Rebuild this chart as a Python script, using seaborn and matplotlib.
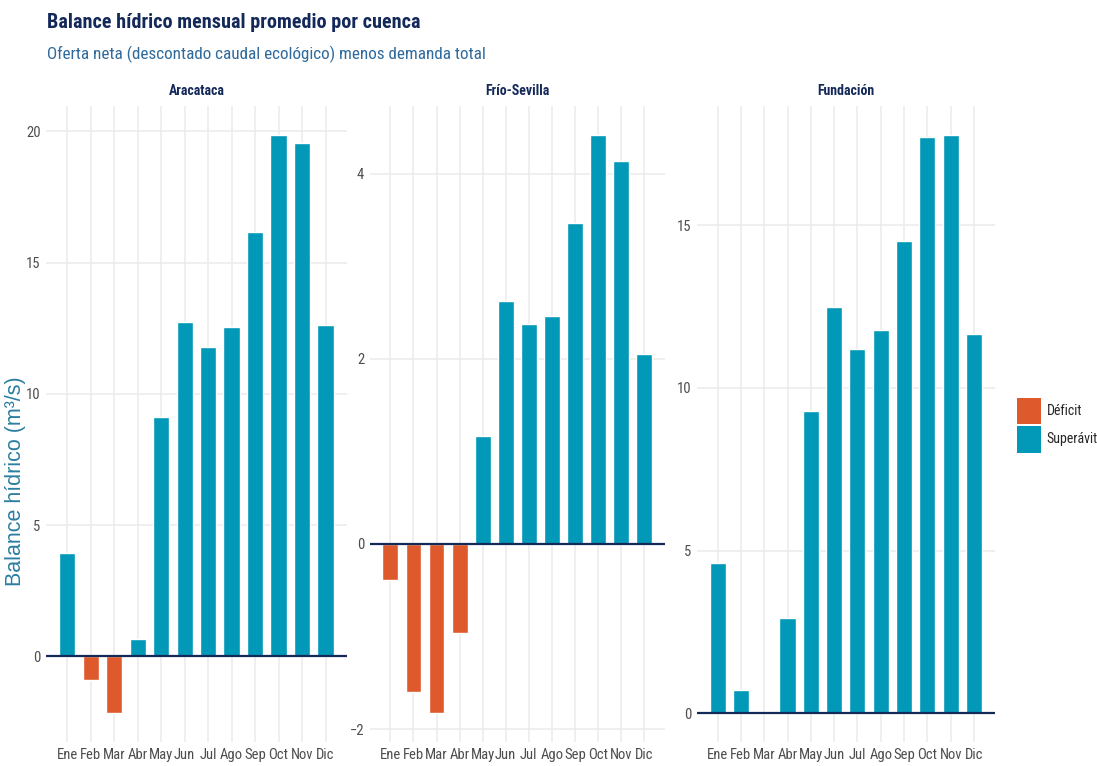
import numpy as np
import pandas as pd
import matplotlib
matplotlib.use('Agg')
import matplotlib.pyplot as plt
import seaborn as sns
from matplotlib import font_manager
from matplotlib.ticker import MultipleLocator
from matplotlib.patches import Patch

# Datos
meses = ['Ene', 'Feb', 'Mar', 'Abr', 'May', 'Jun', 'Jul', 'Ago', 'Sep', 'Oct', 'Nov', 'Dic']
cuencas = ['Aracataca', 'Frío-Sevilla', 'Fundación']
aracataca = [3.95, -0.91, -2.17, 0.65, 9.1, 12.74, 11.78, 12.55, 16.18, 19.87, 19.56, 12.63]
frio_sevilla = [-0.39, -1.6, -1.83, -0.96, 1.16, 2.62, 2.37, 2.46, 3.47, 4.42, 4.13, 2.05]
fundacion = [4.62, 0.71, 0.0, 2.92, 9.29, 12.49, 11.2, 11.78, 14.52, 17.72, 17.78, 11.66]
paso_ticks = [5, 2, 5]

colores = {'Déficit': '#DE5A2C', 'Superávit': '#0199B7'}
navy = '#14295A'

# fuente condensada (como Roboto Condensed)
disponibles = {f.name for f in font_manager.fontManager.ttflist}
fuente = next((f for f in ['Roboto Condensed', 'Archivo Narrow', 'Sofia Sans Condensed']
               if f in disponibles), 'DejaVu Sans')

sns.set_theme(style='white')
plt.rcParams['font.family'] = [fuente, 'DejaVu Sans']

# Tabla larga
filas = []
for cuenca, valores in zip(cuencas, [aracataca, frio_sevilla, fundacion]):
    for mes, v in zip(meses, valores):
        filas.append({'cuenca': cuenca, 'mes': mes, 'balance': v,
                      'tipo': 'Déficit' if v < 0 else 'Superávit'})
df = pd.DataFrame(filas)

fig = plt.figure(figsize=(10.97, 7.66), dpi=100)
posiciones = [(0.042, 0.274), (0.337, 0.269), (0.635, 0.272)]
abajo, alto = 0.031, 0.831

for i, cuenca in enumerate(cuencas):
    ax = fig.add_axes([posiciones[i][0], abajo, posiciones[i][1], alto])
    d = df[df['cuenca'] == cuenca]
    sns.barplot(data=d, x='mes', y='balance', hue='tipo', hue_order=['Déficit', 'Superávit'],
                palette=colores, order=meses, dodge=False, width=0.69, saturation=1,
                legend=False, ax=ax, zorder=2)
    ax.axhline(0, color=navy, lw=1.6, zorder=3)
    vmin, vmax = min(d['balance'].min(), 0), max(d['balance'].max(), 0)
    rango = vmax - vmin
    ax.set_ylim(vmin - 0.05 * rango, vmax + 0.05 * rango)
    ax.set_xlim(-0.9, 11.9)
    ax.yaxis.set_major_locator(MultipleLocator(paso_ticks[i]))
    ax.grid(True, color='#EBEBEB', lw=1.1, zorder=0)
    ax.set_axisbelow(True)
    for s in ax.spines.values():
        s.set_visible(False)
    ax.tick_params(length=0, labelsize=10.5, labelcolor='#4D4D4D', pad=4)
    ax.set_xlabel('')
    ax.set_ylabel('')
    ax.set_title(cuenca, fontsize=10, fontweight='bold', color=navy, pad=8)

fig.text(0.014, 0.372, 'Balance hídrico (m³/s)', rotation=90, va='center', ha='center',
         fontsize=15.5, color='#2B7EA1', family='Liberation Sans')

fig.text(0.043, 0.970, 'Balance hídrico mensual promedio por cuenca', fontsize=14.5,
         fontweight='bold', color=navy, va='center')
fig.text(0.043, 0.929, 'Oferta neta (descontado caudal ecológico) menos demanda total',
         fontsize=12.3, color='#2E6A9C', va='center')

handles = [Patch(facecolor=colores[k], edgecolor='none', label=k) for k in ['Déficit', 'Superávit']]
fig.legend(handles=handles, loc='center left', bbox_to_anchor=(0.927, 0.445), frameon=False,
           fontsize=10, handlelength=1.7, handleheight=2.6, handletextpad=0.45, labelspacing=0.1,
           borderaxespad=0, borderpad=0)

fig.savefig('out.png', dpi=100)
